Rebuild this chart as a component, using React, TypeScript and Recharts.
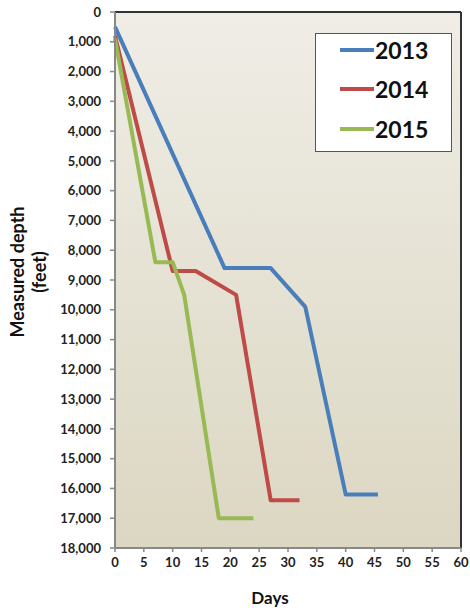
import React from "react"
import {
  LineChart,
  Line,
  XAxis,
  YAxis,
  CartesianGrid,
  ReferenceLine,
} from "recharts"

const days2013 = [0, 19, 27, 33, 40, 45.6]
const depth2013 = [500, 8600, 8600, 9900, 16200, 16200]

const days2014 = [0, 10, 14, 21, 27, 32]
const depth2014 = [800, 8700, 8700, 9500, 16400, 16400]

const days2015 = [0, 7, 10, 12, 18, 24]
const depth2015 = [900, 8400, 8400, 9500, 17000, 17000]

const dayTicks = [0, 5, 10, 15, 20, 25, 30, 35, 40, 45, 50, 55, 60]
const depthTicks = [
  0, 1000, 2000, 3000, 4000, 5000, 6000, 7000, 8000, 9000, 10000, 11000,
  12000, 13000, 14000, 15000, 16000, 17000, 18000,
]

const toRows = (days: number[], depth: number[]) =>
  days.map((d, i) => ({ day: d, depth: depth[i] }))

const series = [
  { name: "2013", color: "#4A7EBB", data: toRows(days2013, depth2013) },
  { name: "2014", color: "#BE4B48", data: toRows(days2014, depth2014) },
  { name: "2015", color: "#98B954", data: toRows(days2015, depth2015) },
]

const FONT = "Lato, 'Open Sans', sans-serif"

function LegendBox() {
  return (
    <div
      style={{
        position: "absolute",
        left: 315,
        top: 33,
        width: 137,
        height: 119,
        boxSizing: "border-box",
        border: "1.5px solid #555",
        background: "#fff",
      }}
    >
      {series.map((s) => (
        <div
          key={s.name}
          style={{
            display: "flex",
            alignItems: "center",
            height: 39.5,
            marginTop: s.name === "2013" ? -4 : 0,
            paddingLeft: 24,
          }}
        >
          <div style={{ width: 34, height: 4, background: s.color }} />
          <span
            style={{
              fontFamily: FONT,
              fontWeight: 700,
              fontSize: 23,
              color: "#111",
              marginLeft: 1,
            }}
          >
            {s.name}
          </span>
        </div>
      ))}
    </div>
  )
}

export default function App() {
  return (
    <div style={{ position: "absolute", left: 0, top: 0, width: 470, height: 613, background: "#fff" }}>
      <svg width={0} height={0} style={{ position: "absolute" }}>
        <defs>
          <linearGradient id="plotBg" x1="0" y1="0" x2="0" y2="1">
            <stop offset="0%" stopColor="#EFEDE6" />
            <stop offset="100%" stopColor="#DCD7C2" />
          </linearGradient>
        </defs>
      </svg>
      <LineChart
        width={470}
        height={613}
        margin={{ top: 12, right: 9, left: 0, bottom: 0 }}
      >
        <CartesianGrid horizontal={false} vertical={false} fill="url(#plotBg)" />
        <XAxis
          type="number"
          dataKey="day"
          domain={[0, 60]}
          ticks={dayTicks}
          interval={0}
          height={65}
          allowDuplicatedCategory={false}
          axisLine={{ stroke: "#888", strokeWidth: 2 }}
          tickLine={{ stroke: "#888", strokeWidth: 1.5 }}
          tickSize={4}
          tickMargin={6}
          tick={{ fill: "#222", fontSize: 13, fontWeight: 700, fontFamily: FONT }}
          label={{
            content: () => (
              <text
                x={270}
                y={604}
                textAnchor="middle"
                fill="#111"
                fontSize={17}
                fontWeight={700}
                fontFamily={FONT}
              >
                Days
              </text>
            ),
          }}
        />
        <YAxis
          type="number"
          dataKey="depth"
          reversed
          domain={[0, 18000]}
          ticks={depthTicks}
          interval={0}
          width={115}
          axisLine={{ stroke: "#888", strokeWidth: 2 }}
          tickLine={{ stroke: "#888", strokeWidth: 1.5 }}
          tickSize={5}
          tickMargin={9}
          tickFormatter={(v: number) => v.toLocaleString("en-US")}
          tick={{ fill: "#222", fontSize: 13, fontWeight: 700, fontFamily: FONT }}
          label={{
            content: () => (
              <g fill="#111" fontSize={18} fontWeight={700} fontFamily={FONT}>
                <text x={24} y={272} textAnchor="middle" transform="rotate(-90 24 272)">
                  Measured depth
                </text>
                <text x={46} y={272} textAnchor="middle" transform="rotate(-90 46 272)">
                  (feet)
                </text>
              </g>
            ),
          }}
        />
        <ReferenceLine y={0} stroke="#333" strokeWidth={2} />
        <ReferenceLine x={60} stroke="#333" strokeWidth={2} />
        {series.map((s) => (
          <Line
            key={s.name}
            data={s.data}
            dataKey="depth"
            name={s.name}
            type="linear"
            stroke={s.color}
            strokeWidth={4}
            strokeLinejoin="round"
            dot={false}
            activeDot={false}
            isAnimationActive={false}
          />
        ))}
      </LineChart>
      <LegendBox />
    </div>
  )
}
